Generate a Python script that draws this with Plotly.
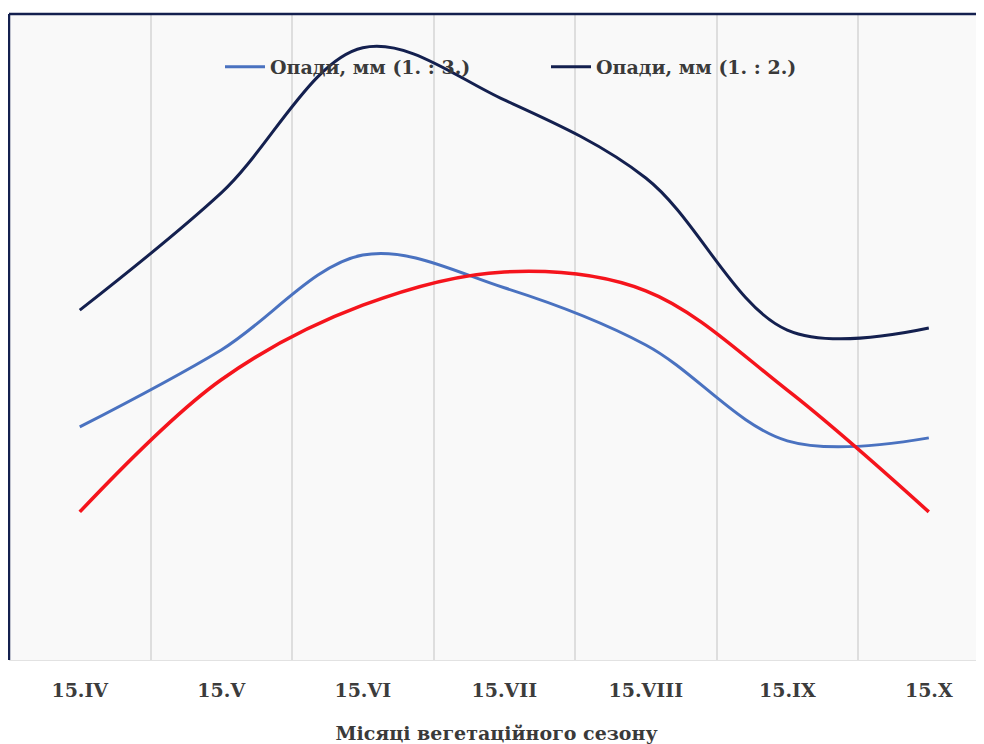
import plotly.graph_objects as go

months = ["15.IV", "15.V", "15.VI", "15.VII", "15.VIII", "15.IX", "15.X"]
rain_1_3 = [46.9, 62.4, 81.5, 74.9, 63.4, 44.1, 44.7]
rain_1_2 = [70.4, 94.0, 123.2, 112.7, 97.0, 66.4, 66.8]
red_series = [29.8, 56.4, 71.4, 78.1, 74.3, 54.3, 29.8]

series_names = ["Опади, мм (1. : 3.)", "Опади, мм (1. : 2.)"]
x_title = "Місяці вегетаційного сезону"

serif = "DejaVu Serif, Liberation Serif, serif"

fig = go.Figure()
fig.add_trace(go.Scatter(x=months, y=rain_1_3, mode="lines", name=series_names[0],
                         line=dict(color="#4a72c0", width=3, shape="spline", smoothing=1.0)))
fig.add_trace(go.Scatter(x=months, y=rain_1_2, mode="lines", name=series_names[1],
                         line=dict(color="#14204f", width=3, shape="spline", smoothing=1.0)))
fig.add_trace(go.Scatter(x=months, y=red_series, mode="lines", showlegend=False,
                         line=dict(color="#f5141c", width=3.5, shape="spline", smoothing=1.0)))

# page body has an 8px margin; figure coordinates = page coordinates - 8
fig.update_layout(
    width=976, height=736,
    margin=dict(l=1, r=0, t=6, b=84),
    paper_bgcolor="white",
    plot_bgcolor="#f9f9f9",
    showlegend=True,
    legend=dict(orientation="h", x=(220 - 9) / 975, xanchor="left", y=(652 - 59) / 646, yanchor="middle",
                bgcolor="rgba(0,0,0,0)", font=dict(family=serif, size=19, color="#3a3a3a", weight="bold"),
                entrywidth=271, entrywidthmode="pixels", itemwidth=40, traceorder="normal"),
    xaxis=dict(type="category", range=[-0.5, 6.39], tickson="boundaries",
               showgrid=True, gridcolor="#dedede", gridwidth=2,
               showline=True, linecolor="#e2e2e2", linewidth=1,
               ticks="", ticklabelstandoff=13,
               tickfont=dict(family=serif, size=19, color="#3c3c3c", weight="bold"),
               title=dict(text=x_title, font=dict(family=serif, size=19, color="#3a3a3a", weight="bold"),
                          standoff=26)),
    yaxis=dict(range=[0, 130], showgrid=False, showticklabels=False, zeroline=False, ticks=""),
    shapes=[
        dict(type="line", xref="paper", yref="paper", x0=0, x1=1, y0=1, y1=1,
             line=dict(color="#14204f", width=2.5)),
        dict(type="line", xref="paper", yref="paper", x0=0, x1=0, y0=0, y1=1,
             line=dict(color="#14204f", width=2.5)),
    ],
)

fig.write_html("out.html")
